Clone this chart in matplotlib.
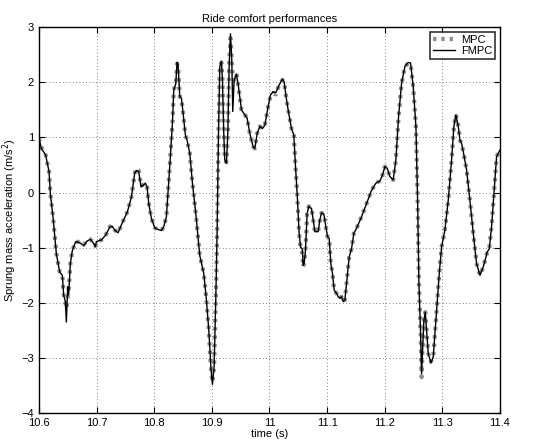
# Ride comfort: MPC vs FMPC sprung mass acceleration

import matplotlib
matplotlib.use("Agg")
import matplotlib.pyplot as plt

plt.rcParams["font.family"] = ["Liberation Sans", "DejaVu Sans"]

# time (s)
t = [10.6000, 10.6041, 10.6116, 10.6174, 10.6197, 10.6243, 10.6301, 10.6359, 10.6405, 10.6428,
     10.6457, 10.6475, 10.6498, 10.6515, 10.6544, 10.6579, 10.6637, 10.6706, 10.6776, 10.6834,
     10.6891, 10.6938, 10.6978, 10.6996, 10.7083, 10.7158, 10.7227, 10.7268, 10.7314, 10.7372,
     10.7441, 10.7534, 10.7604, 10.7661, 10.7690, 10.7731, 10.7771, 10.7806, 10.7847, 10.7876,
     10.7905, 10.7951, 10.8009, 10.8067, 10.8125, 10.8165, 10.8211, 10.8269, 10.8316, 10.8339,
     10.8373, 10.8397, 10.8414, 10.8443, 10.8472, 10.8501, 10.8541, 10.8570, 10.8617, 10.8663,
     10.8721, 10.8790, 10.8860, 10.8906, 10.8947, 10.8987, 10.9010, 10.9039, 10.9068, 10.9091,
     10.9115, 10.9138, 10.9167, 10.9184, 10.9207, 10.9224, 10.9253, 10.9277, 10.9300, 10.9323,
     10.9346, 10.9363, 10.9387, 10.9427, 10.9462, 10.9514, 10.9572, 10.9612, 10.9659, 10.9717,
     10.9746, 10.9786, 10.9832, 10.9879, 10.9919, 10.9977, 11.0018, 11.0064, 11.0110, 11.0168,
     11.0226, 11.0255, 11.0284, 11.0324, 11.0382, 11.0423, 11.0452, 11.0487, 11.0515, 11.0539,
     11.0568, 11.0585, 11.0602, 11.0625, 11.0654, 11.0683, 11.0730, 11.0759, 11.0788, 11.0845,
     11.0874, 11.0903, 11.0944, 11.0978, 11.1007, 11.1036, 11.1065, 11.1094, 11.1123, 11.1164,
     11.1193, 11.1222, 11.1251, 11.1280, 11.1309, 11.1338, 11.1384, 11.1424, 11.1465, 11.1511,
     11.1598, 11.1685, 11.1772, 11.1847, 11.1916, 11.1963, 11.2003, 11.2044, 11.2090, 11.2148,
     11.2194, 11.2241, 11.2293, 11.2351, 11.2409, 11.2449, 11.2495, 11.2542, 11.2571, 11.2594,
     11.2623, 11.2640, 11.2657, 11.2680, 11.2704, 11.2727, 11.2756, 11.2802, 11.2843, 11.2889,
     11.2947, 11.2987, 11.3045, 11.3103, 11.3161, 11.3201, 11.3236, 11.3277, 11.3306, 11.3335,
     11.3375, 11.3421, 11.3479, 11.3537, 11.3595, 11.3653, 11.3711, 11.3780, 11.3815, 11.3855,
     11.3896, 11.3942, 11.4000]

# FMPC acceleration (m/s^2)
fmpc = [0.98, 0.80, 0.68, 0.38, -0.02, -0.44, -1.11, -1.44, -1.50, -1.86,
        -1.98, -2.35, -1.71, -1.86, -1.29, -1.05, -0.89, -0.91, -0.96, -0.88,
        -0.85, -0.91, -0.98, -0.89, -0.86, -0.77, -0.63, -0.61, -0.68, -0.73,
        -0.56, -0.35, -0.08, 0.35, 0.40, 0.38, 0.10, 0.13, 0.17, 0.10,
        -0.20, -0.47, -0.64, -0.67, -0.69, -0.62, -0.44, 0.47, 1.26, 1.86,
        1.97, 2.36, 2.32, 1.74, 1.71, 1.44, 1.04, 0.95, 0.71, 0.17,
        -0.38, -1.14, -1.47, -1.95, -2.50, -3.23, -3.48, -3.17, -1.95, -0.74,
        1.07, 2.29, 2.38, 2.04, 1.07, 0.59, 0.53, 1.07, 2.29, 2.88,
        2.41, 1.47, 2.04, 2.15, 1.92, 1.50, 1.41, 1.35, 1.07, 0.83,
        0.80, 1.07, 1.20, 1.16, 1.22, 1.56, 1.77, 1.83, 1.81, 1.95,
        2.06, 2.01, 1.77, 1.50, 1.16, 1.04, 0.47, -0.14, -0.74, -0.99,
        -1.02, -1.32, -1.29, -1.05, -0.38, -0.25, -0.29, -0.50, -0.71, -0.71,
        -0.50, -0.37, -0.39, -0.62, -0.80, -0.83, -1.29, -1.47, -1.77, -1.83,
        -1.89, -1.92, -1.89, -1.98, -1.95, -1.65, -1.17, -1.02, -0.74, -0.65,
        -0.44, -0.20, 0.04, 0.17, 0.21, 0.32, 0.47, 0.44, 0.29, 0.23,
        0.59, 1.38, 1.98, 2.29, 2.36, 2.35, 1.92, 1.20, -0.14, -1.65,
        -2.56, -3.29, -2.86, -2.32, -2.17, -2.50, -2.92, -3.09, -2.98, -2.32,
        -1.47, -0.99, -0.68, -0.14, 0.59, 1.20, 1.41, 1.20, 0.95, 0.89,
        0.68, 0.41, -0.14, -0.74, -1.29, -1.50, -1.35, -1.08, -1.02, -0.62,
        -0.02, 0.65, 0.77]

# MPC acceleration (m/s^2), nearly identical except at the spikes
mpc = [0.98, 0.82, 0.68, 0.38, -0.02, -0.44, -1.11, -1.44, -1.50, -1.86,
       -1.98, -2.10, -1.90, -1.80, -1.29, -1.05, -0.89, -0.90, -0.95, -0.87,
       -0.85, -0.90, -0.97, -0.89, -0.86, -0.77, -0.62, -0.60, -0.68, -0.73,
       -0.56, -0.35, -0.08, 0.35, 0.44, 0.40, 0.12, 0.14, 0.17, 0.10,
       -0.20, -0.47, -0.64, -0.67, -0.69, -0.62, -0.44, 0.47, 1.26, 1.86,
       1.97, 2.34, 2.30, 1.74, 1.71, 1.44, 1.04, 0.95, 0.71, 0.17,
       -0.38, -1.14, -1.47, -1.95, -2.50, -3.23, -3.44, -3.17, -1.95, -0.74,
       1.07, 2.29, 2.36, 2.04, 1.07, 0.59, 0.55, 1.07, 2.29, 2.80,
       2.41, 2.10, 2.04, 2.15, 1.92, 1.50, 1.41, 1.35, 1.07, 0.83,
       0.80, 1.07, 1.20, 1.16, 1.22, 1.56, 1.75, 1.80, 1.78, 1.95,
       2.04, 2.01, 1.77, 1.50, 1.16, 1.04, 0.47, -0.14, -0.74, -0.99,
       -1.10, -1.35, -1.29, -1.05, -0.38, -0.25, -0.29, -0.50, -0.71, -0.71,
       -0.50, -0.37, -0.39, -0.62, -0.80, -0.83, -1.29, -1.47, -1.77, -1.83,
       -1.89, -1.92, -1.89, -1.98, -1.95, -1.65, -1.17, -1.02, -0.74, -0.65,
       -0.44, -0.20, 0.04, 0.17, 0.21, 0.32, 0.47, 0.44, 0.29, 0.23,
       0.59, 1.38, 1.98, 2.29, 2.34, 2.33, 1.92, 1.20, -0.14, -1.65,
       -2.56, -3.35, -2.86, -2.32, -2.17, -2.50, -2.92, -3.07, -2.98, -2.32,
       -1.47, -0.99, -0.68, -0.14, 0.59, 1.20, 1.41, 1.20, 0.95, 0.89,
       0.68, 0.41, -0.14, -0.74, -1.29, -1.50, -1.35, -1.08, -1.02, -0.62,
       -0.02, 0.65, 0.77]

x_ticks = [10.6, 10.7, 10.8, 10.9, 11.0, 11.1, 11.2, 11.3, 11.4]
x_tick_labels = ["10.6", "10.7", "10.8", "10.9", "11", "11.1", "11.2", "11.3", "11.4"]
y_ticks = [-4, -3, -2, -1, 0, 1, 2, 3]

fig = plt.figure(figsize=(5.54, 4.43), dpi=100)
ax = fig.add_axes([0.0704, 0.0677, 0.832, 0.871])

ax.plot(t, mpc, color="#8c8c8c", linestyle=(0, (0.8, 1.2)), linewidth=3.0, label="MPC")
ax.plot(t, fmpc, color="black", linewidth=1.0, label="FMPC")

ax.set_xlim(10.6, 11.4)
ax.set_ylim(-4, 3)
ax.set_xticks(x_ticks)
ax.set_xticklabels(x_tick_labels)
ax.set_yticks(y_ticks)
ax.tick_params(direction="in", labelsize=8, length=4, top=True, right=True,
               labeltop=False, labelright=False)
ax.grid(True, linestyle=(0, (1, 3)), color="#555555", linewidth=0.6)
for sp in ax.spines.values():
    sp.set_linewidth(1.0)

ax.set_title("Ride comfort performances", fontsize=8, pad=4)
ax.set_xlabel("time (s)", fontsize=8, labelpad=1)
ax.set_ylabel("Sprung mass acceleration (m/s$^2$)", fontsize=8, labelpad=2)

leg = ax.legend(loc="upper right", fontsize=8, frameon=True, fancybox=False,
                borderpad=0.3, handlelength=2.0, handletextpad=0.5,
                borderaxespad=0.4, labelspacing=0.1)
leg.get_frame().set_edgecolor("black")
leg.get_frame().set_linewidth(1.2)

fig.savefig("out.png", dpi=100)
